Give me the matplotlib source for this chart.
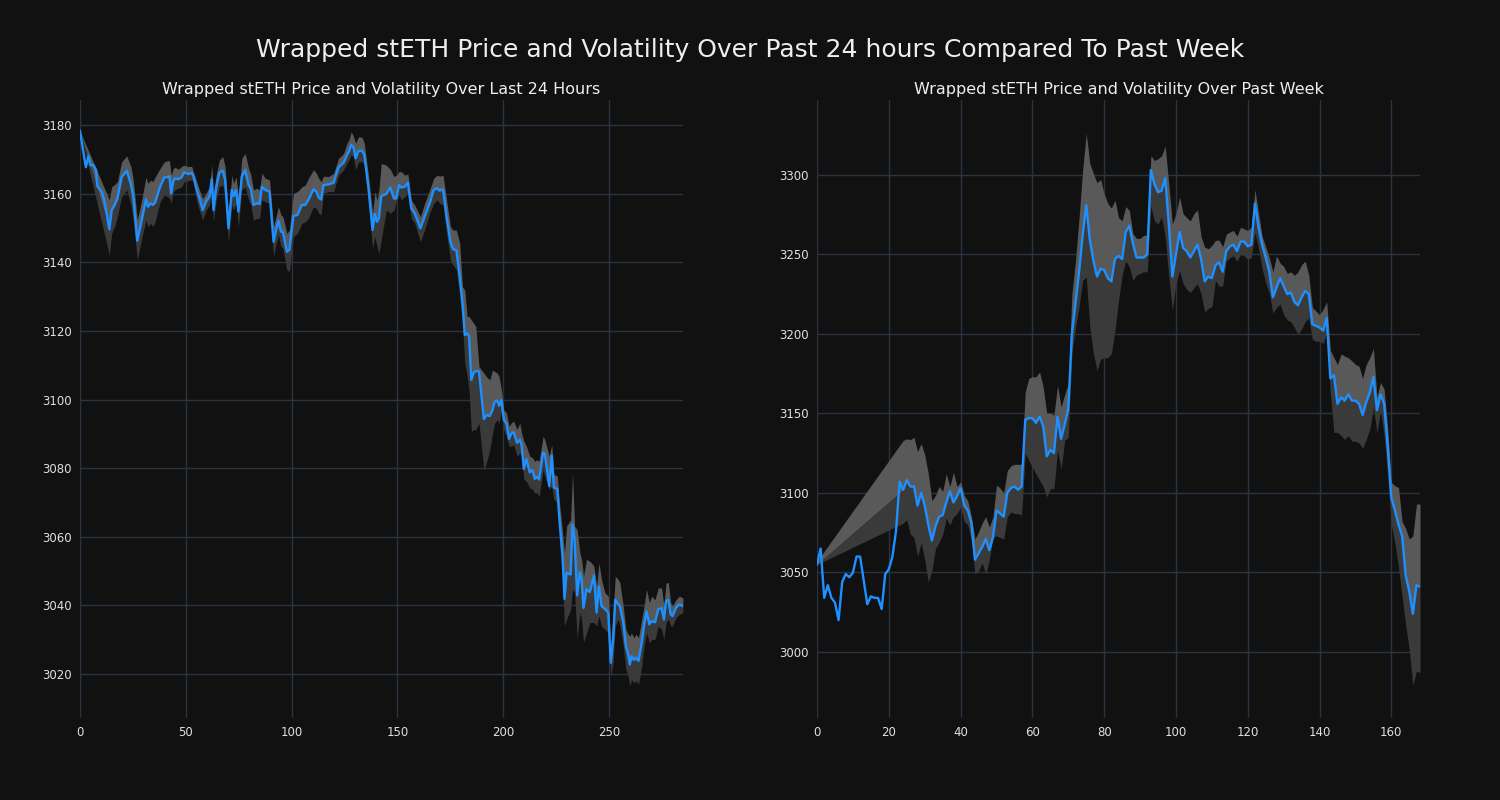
import numpy as np
import matplotlib
matplotlib.use("Agg")
import matplotlib.pyplot as plt

nan = None

# ---------------- Left chart: last 24 hours ----------------
day_x = [0, 2.8, 4, 5, 6.3, 7.6, 8.2, 10.3, 11.8, 13.9, 15, 16.6, 17.7, 19.7, 22.1, 24.1, 25.2, 27.1, 29.2, 31.2,
         32.2, 33.4, 34.4, 35.5, 37.9, 39.9, 41.5, 42.3, 43.1, 44.2, 45, 46.5, 48.1, 49.2, 51.3, 52.8, 53.6, 55.2, 56.5, 58,
         59.6, 61.2, 62.3, 63.1, 64.4, 65.9, 67.5, 68.6, 70.2, 71.8, 72.6, 73.8, 74.9, 76.5, 78.1, 79.7, 80.8, 82, 83.6, 84.9,
         86, 87.5, 89.6, 91.5, 92.7, 93.8, 95, 95.9, 97.8, 99, 100.9, 102.8, 104.9, 106.5, 108, 110.4, 111.7, 112.8, 114, 115.1,
         117.5, 119.9, 122.2, 124.6, 126.2, 127.1, 128.2, 129.3, 130.3, 131.7, 133.3, 134.4, 136.4, 138.3, 139.4, 140.4, 141.3, 142.4, 144.8, 146.7,
         148.4, 149.5, 150.8, 151.9, 153.5, 155, 156.6, 158.2, 160.9, 162.9, 165.3, 167.2, 168.8, 170, 171.6, 173.5, 175.1, 176.3, 177.9, 179.5,
         180.8, 181.9, 183, 183.9, 185, 186.1, 187.1, 188.6, 190.9, 192.1, 193.7, 195, 196, 197.2, 198.1, 199.2, 200.3, 201.6, 202.8, 203.9,
         205, 206.6, 207.9, 208.7, 209.8, 211, 212.6, 213.9, 215, 216.1, 217, 218.9, 219.7, 221.8, 223, 224, 225.6, 226.8, 228.1, 229,
         230, 231.9, 232.8, 233.8, 235, 236.3, 237.1, 238, 239.4, 241, 242.9, 244.2, 245.3, 246.5, 248.1, 249.7, 250.9, 252, 253, 254.4,
         255.2, 256.8, 258, 259.1, 259.9, 260.7, 261.8, 262.8, 264, 265.5, 266.6, 267.8, 269.1, 270.2, 271.8, 273.3, 274.9, 276, 277, 278.1,
         279.2, 280.1, 281.7, 283.3, 285]

day_price = [3178.3, 3167.7, 3171, 3168.3, 3168.4, 3166.9, 3162.2, 3160.6, 3157.2, 3149.6, 3155.2, 3156.9, 3158.6, 3164.8, 3166.7, 3162.7, 3159.1, 3146.3, 3152.3, 3158.3,
             3156.2, 3157.2, 3156.7, 3157.4, 3162, 3164.8, 3164.8, 3165.1, 3160, 3163.8, 3164.5, 3164.2, 3164.8, 3166.2, 3165.7, 3166.1, 3165.1, 3161.1, 3158.6, 3155.2,
             3157.7, 3159.1, 3164.2, 3155.2, 3161.8, 3166.1, 3166.7, 3164, 3149.9, 3161.1, 3159.3, 3161.1, 3154.8, 3165, 3166.9, 3162.5, 3161.3, 3156.7, 3157.2, 3157,
             3162, 3161.1, 3160.6, 3146, 3149.4, 3152.1, 3148.9, 3148.9, 3143.1, 3143.6, 3153.5, 3153.8, 3156.7, 3156.7, 3158.2, 3161.3, 3160.6, 3158.9, 3158.3, 3162.5,
             3162.7, 3163.2, 3167.7, 3169, 3171.3, 3172.2, 3174.2, 3173.5, 3170.3, 3172.5, 3172.5, 3171.3, 3161.6, 3149.4, 3154.1, 3151.8, 3152.8, 3159.3, 3159.9, 3161.8,
             3158.6, 3158.6, 3162.5, 3161.8, 3162, 3163.2, 3155.7, 3154.3, 3149.9, 3153.3, 3157.2, 3161.1, 3161.6, 3160.9, 3161.3, 3152.3, 3146, 3143.8, 3143.6, 3135.8,
             3128.1, 3118.8, 3119.3, 3118.5, 3105.7, 3107.9, 3108.3, 3108.2, 3094.3, 3095.5, 3095.2, 3097, 3099.4, 3099.7, 3098.2, 3099.9, 3094.1, 3093, 3088.5, 3090.1,
             3090.5, 3087.4, 3088.3, 3086.9, 3079.8, 3082.7, 3078.8, 3079.4, 3076.9, 3077.5, 3076.7, 3084.5, 3084.3, 3074.8, 3083.7, 3074.3, 3074, 3063.6, 3054.4, 3041.9,
             3049.5, 3049, 3063.6, 3059.2, 3042.9, 3049.7, 3047.6, 3039.3, 3044.7, 3043.9, 3048.7, 3037.9, 3045.6, 3039.8, 3039, 3037.9, 3023.3, 3030.1, 3041.7, 3040.3,
             3039.8, 3035, 3028.2, 3025.7, 3022.8, 3025.2, 3024.1, 3024.8, 3023.8, 3029.1, 3034, 3038.3, 3034.5, 3035.4, 3035.1, 3038.8, 3039.3, 3035.9, 3041.3, 3041.6,
             3037.4, 3036.9, 3039.3, 3040.3, 3039.8]

day_upper = [3178.3, nan, nan, nan, nan, nan, nan, nan, nan, 3158.2, 3162, 3162.8, 3163.5, 3169.3, 3171, 3167.9, 3164, 3152.3, 3158.2, 3164.8,
             3163, 3164, 3163.5, 3164.8, 3167.4, 3169.3, 3169.6, 3169.6, 3165.4, 3167.4, 3167.7, 3167.1, 3168, 3168.3, 3167.9, 3168, 3166.4, 3163.5, 3161.1, 3158.6,
             3160.1, 3162, 3168.3, 3160.1, 3165.4, 3169.8, 3170.8, 3167.9, 3154.3, 3165.4, 3163, 3164.9, 3159.1, 3170.3, 3171.7, 3167.4, 3165.4, 3161.1, 3161.6, 3161.1,
             3166, 3164.5, 3164, 3150.4, 3153.3, 3156.2, 3153.8, 3153.3, 3148.4, 3149.4, 3160.1, 3160.6, 3162, 3162.5, 3164.5, 3167, 3166, 3164.5, 3163.5, 3165.1,
             3165, 3165.9, 3170.3, 3171.7, 3174.7, 3175.6, 3178.1, 3176.6, 3174.7, 3176.6, 3176.4, 3174.7, 3165, 3154.3, 3160.6, 3158.2, 3161, 3168.8, 3168.3, 3167.1,
             3165, 3165.4, 3166.4, 3166.4, 3165.4, 3165.7, 3158.2, 3156.7, 3153.3, 3157.2, 3161.1, 3164.5, 3165.4, 3165.1, 3165.4, 3157.2, 3150.4, 3149.4, 3149.4, 3145.5,
             3132.9, 3131.9, 3124.2, 3124.2, 3123.2, 3122.2, 3121.3, 3109.6, 3107.7, 3106.7, 3105.7, 3108.6, 3108.2, 3107.7, 3106.7, 3102.8, 3097, 3096.1, 3092.2, 3093.2,
             3093.7, 3091.3, 3093.2, 3090.3, 3087.9, 3086.4, 3083.5, 3083, 3082, 3082.5, 3082, 3089.3, 3088.3, 3083.5, 3086.9, 3078.2, 3077.7, 3068.9, 3061.2, 3055.3,
             3063.1, 3065, 3078.6, 3063.1, 3062.1, 3055.3, 3053.4, 3048.5, 3053.4, 3052.9, 3051.5, 3045.6, 3052.4, 3047.6, 3043.7, 3042.7, 3028.2, 3037.9, 3048.5, 3047.6,
             3046.6, 3039.8, 3033, 3031.6, 3031.1, 3032, 3030.6, 3031.6, 3030.6, 3035.9, 3039.8, 3044.7, 3040.8, 3042.7, 3041.7, 3045.1, 3045.1, 3039.8, 3046.6, 3046.6,
             3040.8, 3039.8, 3041.7, 3042.7, 3042.2]

day_lower = [3178.3, nan, nan, nan, nan, nan, nan, nan, nan, 3142.1, 3148.4, 3150.9, 3153.3, 3159.1, 3161.1, 3156.7, 3152.3, 3140.7, 3147, 3152.3,
             3150.4, 3151.4, 3150.4, 3151.8, 3157.7, 3159.6, 3159.1, 3158.6, 3157.2, 3160.6, 3161.1, 3161.6, 3162, 3163.5, 3163.8, 3164, 3163.5, 3157.7, 3155.2, 3152.3,
             3155.2, 3156.7, 3160.1, 3151.8, 3158.2, 3162, 3162.5, 3159.6, 3146, 3156.7, 3155.2, 3157.2, 3150.4, 3161.1, 3162, 3158.2, 3156.7, 3152.3, 3152.8, 3152.8,
             3158.2, 3157.7, 3157.2, 3141.7, 3145.5, 3148, 3144.6, 3144.1, 3137.8, 3137.3, 3147.5, 3148.4, 3151.4, 3151.8, 3152.8, 3156.2, 3155.7, 3154.3, 3153.8, 3160.1,
             3160.6, 3160.6, 3165.4, 3166.9, 3168.8, 3169.8, 3171.3, 3170.8, 3166.9, 3169.3, 3169.3, 3168.3, 3156.7, 3144.1, 3147.5, 3144.6, 3142.6, 3146.5, 3155.2, 3154.3,
             3155.2, 3157.7, 3159.6, 3158.2, 3159.1, 3160.1, 3152.8, 3151.4, 3146, 3149.4, 3154.3, 3157.2, 3158.2, 3157.2, 3156.7, 3147.5, 3140.7, 3139.2, 3137.8, 3130,
             3122.2, 3110.6, 3106.7, 3102.8, 3090.7, 3091.2, 3091.2, 3093.1, 3079.5, 3081.5, 3085.3, 3090.2, 3093.1, 3094.1, 3093.1, 3097, 3091.2, 3089.3, 3086.4, 3086.4,
             3086.9, 3083.5, 3084.5, 3083.5, 3076.7, 3076.2, 3074.3, 3073.8, 3072.8, 3072.8, 3071.8, 3079.6, 3077.7, 3073.8, 3074.8, 3070.9, 3069.9, 3057.3, 3047.6, 3034,
             3036, 3038.8, 3044.7, 3043.7, 3030.1, 3037.9, 3036, 3029.1, 3032, 3035, 3035, 3034, 3036.9, 3034, 3033, 3032, 3019.4, 3023.3, 3034, 3036,
             3034, 3028.2, 3021.4, 3019.4, 3016.5, 3018.4, 3017.5, 3018, 3017, 3022.3, 3028.2, 3032, 3029.1, 3030.1, 3030.1, 3034, 3033, 3030.1, 3035, 3036,
             3034, 3034, 3036.4, 3037.4, 3037.9]

# ---------------- Right chart: past week (hourly) ----------------
week_x = list(range(169))

week_price = [3055, 3065, 3034, 3042, 3034, 3031, 3020, 3044, 3049, 3047,
              3050, 3060, 3060, 3045, 3030, 3035, 3034, 3034, 3027, 3049,
              3052, 3060, 3076, 3107, 3102, 3108, 3104, 3104, 3092, 3100,
              3092, 3080, 3070, 3079, 3085, 3086, 3094, 3101, 3094, 3098,
              3103, 3092, 3089, 3081, 3058, 3062, 3066, 3071, 3064, 3072,
              3089, 3087, 3085, 3100, 3103, 3104, 3102, 3104, 3146, 3147,
              3147, 3144, 3148, 3142, 3123, 3127, 3125, 3148, 3134, 3143,
              3153, 3200, 3219, 3239, 3262, 3281, 3259, 3246, 3236, 3241,
              3240, 3235, 3233, 3247, 3249, 3247, 3264, 3268, 3257, 3248,
              3248, 3248, 3250, 3303, 3294, 3289, 3290, 3298, 3269, 3236,
              3250, 3264, 3254, 3252, 3248, 3252, 3256, 3247, 3233, 3236,
              3235, 3243, 3245, 3239, 3252, 3255, 3256, 3252, 3258, 3258,
              3255, 3256, 3282, 3267, 3256, 3248, 3239, 3223, 3229, 3235,
              3230, 3225, 3226, 3220, 3218, 3223, 3227, 3225, 3206, 3205,
              3204, 3202, 3210, 3172, 3174, 3156, 3160, 3158, 3162, 3158,
              3158, 3156, 3149, 3157, 3163, 3173, 3152, 3162, 3156, 3129,
              3097, 3089, 3080, 3073, 3048, 3038, 3024, 3042, 3041]

week_upper = [3057] + [nan] * 23 + [
    3133, 3134, 3133.5, 3135, 3126, 3131,
    3124, 3112, 3095, 3098.5, 3104, 3101, 3112, 3104, 3113, 3104,
    3107, 3098.5, 3095, 3085, 3071, 3075.5, 3081, 3085, 3078.6, 3085,
    3105, 3103, 3100, 3114, 3117, 3118, 3118, 3118, 3163.5, 3172,
    3173, 3173, 3176, 3166.6, 3150, 3150, 3149, 3167.6, 3154, 3162,
    3168.7, 3225, 3246, 3273, 3303, 3326, 3307, 3300.6, 3295, 3297,
    3288, 3282, 3279, 3284, 3273, 3271, 3280, 3277.6, 3263, 3260,
    3260, 3262, 3262, 3312, 3309, 3310, 3312, 3318, 3294, 3269,
    3275.5, 3286, 3275.5, 3273, 3271, 3275.5, 3278, 3261, 3254.5, 3253.5,
    3255.6, 3258.7, 3259, 3254.7, 3262.6, 3264, 3265, 3261.4, 3267, 3266,
    3265, 3267, 3290.6, 3276, 3261.4, 3254.7, 3248, 3239, 3249, 3244.6,
    3242.4, 3238, 3239, 3236.8, 3239, 3243.5, 3245.7, 3236.8, 3216.6, 3214.3,
    3212, 3215.5, 3220, 3189.7, 3185, 3180.7, 3187.4, 3186, 3185, 3183,
    3180.7, 3179.6, 3172, 3180.7, 3185, 3190.8, 3160.5, 3169.5, 3165, 3140,
    3106.7, 3104.5, 3103.4, 3082, 3077.6, 3071, 3073, 3093, 3093]

week_lower = [3055] + [nan] * 23 + [
    3081, 3083, 3074, 3072, 3060, 3069,
    3058, 3044, 3051, 3065, 3069, 3074, 3084, 3080, 3085, 3087,
    3091, 3082, 3080, 3070, 3049, 3051, 3056, 3049, 3058, 3072,
    3073, 3072, 3071, 3085, 3088, 3087, 3087, 3086, 3124.7, 3120.5,
    3116, 3112, 3108, 3104, 3097.5, 3102.7, 3102.7, 3126.8, 3115, 3133,
    3135, 3187.5, 3204, 3217, 3233.6, 3235.7, 3204, 3187.5, 3177, 3184,
    3185, 3185, 3187.5, 3202, 3221, 3237, 3246, 3242, 3233.6, 3237,
    3238, 3239, 3239, 3280, 3271, 3269, 3273.5, 3261, 3235.7, 3215,
    3231.5, 3240, 3231.5, 3228, 3226, 3229, 3231.5, 3225, 3213.7, 3216,
    3217, 3233.6, 3230, 3230, 3245.7, 3248, 3249, 3245.7, 3250, 3249,
    3247, 3248, 3263.7, 3253.6, 3241, 3232, 3225.6, 3213, 3216.6, 3218.8,
    3212, 3208.7, 3207.6, 3204, 3199.8, 3203, 3207.6, 3210, 3196.4, 3195.3,
    3195.3, 3194, 3201, 3162.8, 3138, 3138, 3135.9, 3133.6, 3136, 3132.5,
    3132.5, 3131.4, 3128, 3133.6, 3140, 3153.8, 3138, 3151.6, 3136, 3110,
    3080, 3068.6, 3053, 3035, 3017, 3001.3, 2979, 2988, 2987]

day_yticks = [3020, 3040, 3060, 3080, 3100, 3120, 3140, 3160, 3180]
day_xticks = [0, 50, 100, 150, 200, 250]
week_yticks = [3000, 3050, 3100, 3150, 3200, 3250, 3300]
week_xticks = [0, 20, 40, 60, 80, 100, 120, 140, 160]

suptitle = "Wrapped stETH Price and Volatility Over Past 24 hours Compared To Past Week"
title_left = "Wrapped stETH Price and Volatility Over Last 24 Hours"
title_right = "Wrapped stETH Price and Volatility Over Past Week"

# ---------------- Styling ----------------
BG = "#111111"
GRID = "#2a3340"
TEXT = "#eeeeee"
LINE = "#1E90FF"
BAND_UP = "#595959"
BAND_DN = "#3a3a3a"

plt.rcParams["font.family"] = ["DejaVu Sans"]

fig = plt.figure(figsize=(15, 8), dpi=100, facecolor=BG)
ax1 = fig.add_axes([0.0533, 0.1025, 0.402, 0.7725])
ax2 = fig.add_axes([0.5447, 0.1025, 0.402, 0.7725])


def draw(ax, x, p, u, l, xticks, yticks, ylim, title):
    x = np.asarray(x, dtype=float)
    p = np.asarray(p, dtype=float)
    u = np.asarray(u, dtype=float)
    l = np.asarray(l, dtype=float)
    m = ~np.isnan(u)
    ax.set_facecolor(BG)
    ax.fill_between(x[m], p[m], u[m], color=BAND_UP, lw=0, zorder=2)
    ax.fill_between(x[m], l[m], p[m], color=BAND_DN, lw=0, zorder=2)
    ax.plot(x, p, color=LINE, lw=1.7, zorder=3)
    ax.set_xlim(x.min(), x.max())
    ax.set_ylim(*ylim)
    ax.set_xticks(xticks)
    ax.set_yticks(yticks)
    ax.grid(True, color=GRID, lw=1.0)
    ax.set_axisbelow(True)
    for s in ax.spines.values():
        s.set_visible(False)
    ax.tick_params(length=0, colors="#e0e0e0", labelsize=8.5, pad=6)
    ax.set_title(title, color=TEXT, fontsize=11.5, pad=4.5)


draw(ax1, day_x, day_price, day_upper, day_lower, day_xticks, day_yticks,
     (3007.2, 3187.3), title_left)
draw(ax2, week_x, week_price, week_upper, week_lower, week_xticks, week_yticks,
     (2958.5, 3347), title_right)

fig.suptitle(suptitle, color=TEXT, fontsize=18, y=0.9375, va="center")

fig.savefig("out.png", dpi=100, facecolor=BG)
